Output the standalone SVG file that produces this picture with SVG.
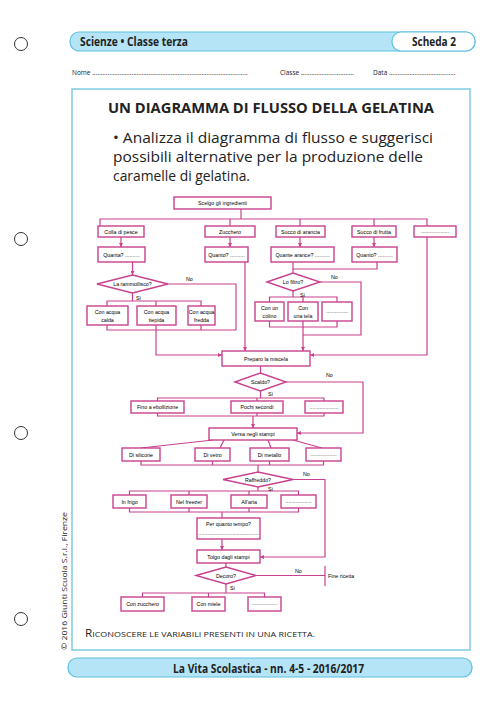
<svg xmlns="http://www.w3.org/2000/svg" width="500" height="708" viewBox="0 0 500 708">
<defs>
<style>
.hole{fill:none;stroke:#333;stroke-width:1}
.b{fill:#fff;stroke:#c8418e;stroke-width:1.4}
.d{fill:#fff;stroke:#c8418e;stroke-width:1.4}
.c{fill:none;stroke:#c8418e;stroke-width:1.2}
.t{font-family:"Liberation Sans",Arial,sans-serif;font-size:5.3px;fill:#000;text-anchor:middle}
.l{font-family:"Liberation Sans",Arial,sans-serif;font-size:5.3px;fill:#000}
.h{font-family:"Open Sans","Liberation Sans",sans-serif;font-weight:bold;fill:#222}
.p{font-family:"Open Sans","Liberation Sans",sans-serif;fill:#222}
</style>
<marker id="ar" viewBox="0 0 6 6" refX="6" refY="3" markerWidth="4" markerHeight="4" markerUnits="userSpaceOnUse" orient="auto">
<path d="M0,0 L6,3 L0,6 z" fill="#c8418e"/>
</marker>
</defs>
<rect width="500" height="708" fill="#fff"/>

<g id="page">
<circle class="hole" cx="21" cy="44" r="6.5"/>
<circle class="hole" cx="21" cy="239" r="6.5"/>
<circle class="hole" cx="21" cy="433" r="6.5"/>
<circle class="hole" cx="21" cy="619" r="6.5"/>
<rect x="70" y="32" width="405" height="19" rx="9" fill="#b5e4f6" stroke="#5cc0e0" stroke-width="1.2"/>
<rect x="392" y="32" width="83" height="19" rx="9" fill="#fff" stroke="#5cc0e0" stroke-width="1.2"/>
<text class="h" x="80" y="46" font-size="12" textLength="108" lengthAdjust="spacingAndGlyphs">Scienze • Classe terza</text>
<text class="h" x="412" y="46" font-size="12" textLength="44" lengthAdjust="spacingAndGlyphs">Scheda 2</text>
<text class="p" x="72" y="75" font-size="6.5">Nome ...........................................................................................</text>
<text class="p" x="280" y="75" font-size="6.5">Classe ...............................</text>
<text class="p" x="373" y="75" font-size="6.5">Data .......................................</text>
<rect x="72" y="89" width="398" height="561" fill="none" stroke="#7fcbe5" stroke-width="1.5"/>
<text class="h" x="108" y="113" font-size="14" textLength="326" lengthAdjust="spacingAndGlyphs">UN DIAGRAMMA DI FLUSSO DELLA GELATINA</text>
<text class="p" x="113" y="143" font-size="15" textLength="320" lengthAdjust="spacingAndGlyphs">• Analizza il diagramma di flusso e suggerisci</text>
<text class="p" x="113" y="162" font-size="15" textLength="310" lengthAdjust="spacingAndGlyphs">possibili alternative per la produzione delle</text>
<text class="p" x="113" y="181" font-size="15" textLength="137" lengthAdjust="spacingAndGlyphs">caramelle di gelatina.</text>
<text class="p" x="85" y="637" textLength="230" lengthAdjust="spacingAndGlyphs"><tspan font-size="10.5">R</tspan><tspan font-size="8">ICONOSCERE LE VARIABILI PRESENTI IN UNA RICETTA.</tspan></text>
<rect x="68" y="658" width="404" height="19" rx="9" fill="#b5e4f6" stroke="#5cc0e0" stroke-width="1.2"/>
<text class="h" x="173" y="673" font-size="12" textLength="191" lengthAdjust="spacingAndGlyphs">La Vita Scolastica - nn. 4-5 - 2016/2017</text>
<text class="p" x="0" y="0" font-size="6.5" transform="translate(67,650) rotate(-90)" textLength="138" lengthAdjust="spacingAndGlyphs">© 2016 Giunti Scuola S.r.l., Firenze</text>
</g>

<g id="connectors">
<path class="c" d="M241 209 V219 M100 226 V219 H427 V226 M230 219 V226 M300 219 V226 M374 219 V226"/>
<path class="c" marker-end="url(#ar)" d="M121 237 V247"/>
<path class="c" marker-end="url(#ar)" d="M230 237 V247"/>
<path class="c" marker-end="url(#ar)" d="M300 237 V247"/>
<path class="c" marker-end="url(#ar)" d="M374 237 V247"/>
<path class="c" marker-end="url(#ar)" d="M427 237 V355 H310"/>
<path class="c" marker-end="url(#ar)" d="M245 262 V351"/>
<path class="c" marker-end="url(#ar)" d="M132.5 262 V275"/>
<path class="c" d="M168 284 H236 V330 H107 V325 M201 325 V330"/>
<path class="c" d="M132.5 293 V301 M107 306 V301 H201 V306 M156 301 V306"/>
<path class="c" marker-end="url(#ar)" d="M156 325 V355 H222"/>
<path class="c" d="M377 262 V269 H293 M293 262 V273"/>
<path class="c" d="M320 282 H361 V335 H303"/>
<path class="c" d="M293 291 V297 M269.5 302 V297 H337 V302 M303 297 V302"/>
<path class="c" d="M269.5 321 V327 H337 V321"/>
<path class="c" marker-end="url(#ar)" d="M303 321 V351"/>
<path class="c" d="M260.5 366 V373"/>
<path class="c" marker-end="url(#ar)" d="M286 382 H363 V433 H297"/>
<path class="c" d="M260.5 391 V398 M157.5 401 V398 H324 V401 M257 398 V401"/>
<path class="c" d="M157.5 413 V416 H324 V413 M257 413 V416"/>
<path class="c" marker-end="url(#ar)" d="M253 416 V428"/>
<path class="c" d="M213 440 L141 448 M224 440 L220 448 M268 440 L271 448 M293 440 L322 448"/>
<path class="c" d="M141 461 V465 H323.5 V461 M212.5 461 V465 M269.5 461 V465 M258 465 V472"/>
<path class="c" marker-end="url(#ar)" d="M293 479.5 H325 V557 H260"/>
<path class="c" d="M258 487 V491 M129.5 495 V491 H298.5 V495 M189 491 V495 M249 491 V495"/>
<path class="c" d="M129.5 508 V512 H298.5 V508 M189 508 V512 M249 508 V512 M222 512 V518"/>
<path class="c" marker-end="url(#ar)" d="M222 539 V550"/>
<path class="c" d="M226 563 V567"/>
<path class="c" d="M256 575.5 H325 M325 566 V586"/>
<path class="c" d="M226 584 V593 M142.5 597 V593 H264.5 V597 M208.5 593 V597"/>
<text class="l" x="186" y="281">No</text>
<text class="l" x="136" y="300">Sì</text>
<text class="l" x="331" y="279">No</text>
<text class="l" x="300" y="297">Sì</text>
<text class="l" x="326" y="377">No</text>
<text class="l" x="268" y="396">Sì</text>
<text class="l" x="303" y="476">No</text>
<text class="l" x="268" y="491">Sì</text>
<text class="l" x="295" y="573">No</text>
<text class="l" x="230" y="590">Sì</text>
</g>

<g id="n_scelgo"><rect class="b" x="174" y="197" width="97" height="12"/><text class="t" x="222.5" y="205">Scelgo gli ingredienti</text></g>
<g id="n_colla"><rect class="b" x="98" y="226" width="46" height="11"/><text class="t" x="121" y="233.5">Colla di pesce</text></g>
<g id="n_zucchero"><rect class="b" x="205" y="226" width="50" height="11"/><text class="t" x="230" y="233.5">Zucchero</text></g>
<g id="n_arancia"><rect class="b" x="276" y="226" width="49" height="11"/><text class="t" x="300.5" y="233.5">Succo di arancia</text></g>
<g id="n_frutta"><rect class="b" x="352" y="226" width="44" height="11"/><text class="t" x="374" y="233.5">Succo di frutta</text></g>
<g id="n_altro1"><rect class="b" x="414" y="226" width="42" height="11"/><text class="t" x="435" y="233">...................</text></g>
<g id="n_quanta"><rect class="b" x="98" y="247" width="47" height="15"/><text class="t" x="121.5" y="256.5">Quanta? ..........</text></g>
<g id="n_quanto1"><rect class="b" x="205" y="247" width="43" height="15"/><text class="t" x="226.5" y="256.5">Quanto? ..........</text></g>
<g id="n_arance"><rect class="b" x="271" y="247" width="63" height="15"/><text class="t" x="302.5" y="256.5">Quante arance? ..........</text></g>
<g id="n_quanto2"><rect class="b" x="352" y="247" width="45" height="15"/><text class="t" x="374.5" y="256.5">Quanto? ..........</text></g>
<g id="n_rammollisco"><polygon class="d" points="97,284 132.5,275 168,284 132.5,293"/><text class="t" x="132.5" y="286">La rammollisco?</text></g>
<g id="n_calda"><rect class="b" x="87" y="306" width="41" height="19"/><text class="t" x="107.5" y="314">Con acqua</text><text class="t" x="107.5" y="321.5">calda</text></g>
<g id="n_tiepida"><rect class="b" x="137" y="306" width="39" height="19"/><text class="t" x="156.5" y="314">Con acqua</text><text class="t" x="156.5" y="321.5">tiepida</text></g>
<g id="n_fredda"><rect class="b" x="188" y="306" width="27" height="19"/><text class="t" x="201.5" y="314">Con acqua</text><text class="t" x="201.5" y="321.5">fredda</text></g>
<g id="n_filtro"><polygon class="d" points="267,282 293,273 320,282 293,291"/><text class="t" x="293" y="284">Lo filtro?</text></g>
<g id="n_colino"><rect class="b" x="255" y="302" width="29" height="19"/><text class="t" x="269.5" y="310">Con un</text><text class="t" x="269.5" y="317.5">colino</text></g>
<g id="n_tela"><rect class="b" x="288" y="302" width="30" height="19"/><text class="t" x="303" y="310">Con</text><text class="t" x="303" y="317.5">una tela</text></g>
<g id="n_altro2"><rect class="b" x="322" y="302" width="30" height="19"/><text class="t" x="337" y="313">...............</text></g>
<g id="n_prepara"><rect class="b" x="222" y="351" width="88" height="15"/><text class="t" x="266" y="360.5">Preparo la miscela</text></g>
<g id="n_scaldo"><polygon class="d" points="235,382 260.5,373 286,382 260.5,391"/><text class="t" x="260.5" y="384">Scaldo?</text></g>
<g id="n_ebollizione"><rect class="b" x="131" y="401" width="53" height="12"/><text class="t" x="157.5" y="409">Fino a ebollizione</text></g>
<g id="n_pochi"><rect class="b" x="231" y="401" width="52" height="12"/><text class="t" x="257" y="409">Pochi secondi</text></g>
<g id="n_altro3"><rect class="b" x="305" y="401" width="38" height="12"/><text class="t" x="324" y="408.5">....................</text></g>
<g id="n_versa"><rect class="b" x="209" y="428" width="88" height="12"/><text class="t" x="253" y="436">Versa negli stampi</text></g>
<g id="n_silicone"><rect class="b" x="122" y="448" width="38" height="13"/><text class="t" x="141" y="456.5">Di silicone</text></g>
<g id="n_vetro"><rect class="b" x="195" y="448" width="35" height="13"/><text class="t" x="212.5" y="456.5">Di vetro</text></g>
<g id="n_metallo"><rect class="b" x="250" y="448" width="39" height="13"/><text class="t" x="269.5" y="456.5">Di metallo</text></g>
<g id="n_altro4"><rect class="b" x="306" y="448" width="35" height="13"/><text class="t" x="323.5" y="456">..................</text></g>
<g id="n_raffreddo"><polygon class="d" points="223,479.5 258,472 293,479.5 258,487"/><text class="t" x="258" y="481.5">Raffreddo?</text></g>
<g id="n_frigo"><rect class="b" x="113" y="495" width="33" height="13"/><text class="t" x="129.5" y="503.5">In frigo</text></g>
<g id="n_freezer"><rect class="b" x="171" y="495" width="36" height="13"/><text class="t" x="189" y="503.5">Nel freezer</text></g>
<g id="n_aria"><rect class="b" x="231" y="495" width="36" height="13"/><text class="t" x="249" y="503.5">All'aria</text></g>
<g id="n_altro5"><rect class="b" x="281" y="495" width="35" height="13"/><text class="t" x="298.5" y="503">..................</text></g>
<g id="n_tempo"><rect class="b" x="197" y="518" width="63" height="21"/><text class="t" x="228.5" y="526">Per quanto tempo?</text><text class="t" x="228.5" y="535">.........................................</text></g>
<g id="n_tolgo"><rect class="b" x="197" y="550" width="63" height="13"/><text class="t" x="228.5" y="558.5">Tolgo dagli stampi</text></g>
<g id="n_decoro"><polygon class="d" points="196,575.5 226,567 256,575.5 226,584"/><text class="t" x="226" y="577.5">Decoro?</text></g>
<g id="n_fine"><text class="l" x="328" y="577.5">Fine ricetta</text></g>
<g id="n_conzucchero"><rect class="b" x="121" y="597" width="43" height="14"/><text class="t" x="142.5" y="605.5">Con zucchero</text></g>
<g id="n_miele"><rect class="b" x="192" y="597" width="33" height="14"/><text class="t" x="208.5" y="605.5">Con miele</text></g>
<g id="n_altro6"><rect class="b" x="248" y="597" width="33" height="14"/><text class="t" x="264.5" y="605">..................</text></g>
</svg>
